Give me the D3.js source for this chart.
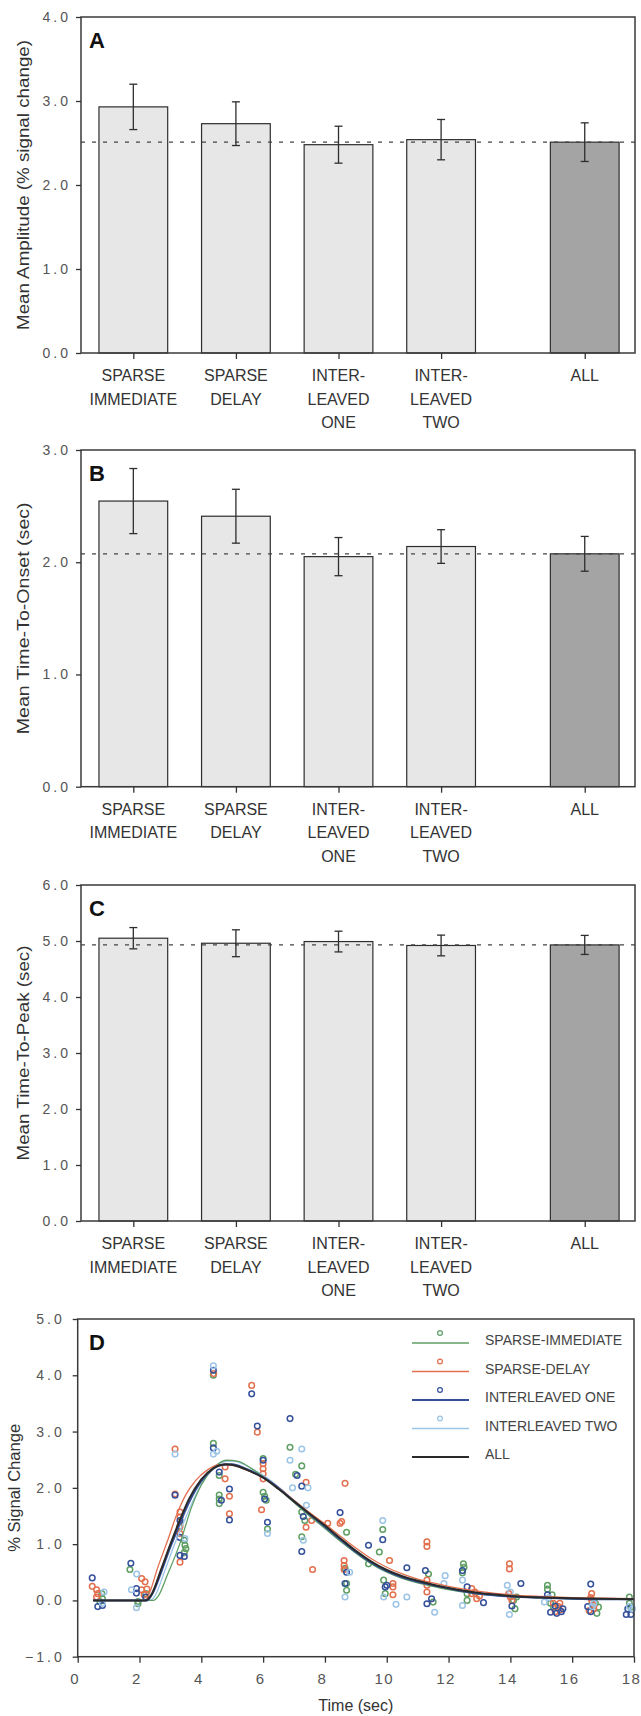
<!DOCTYPE html>
<html>
<head>
<meta charset="utf-8">
<script src="https://cdn.jsdelivr.net/npm/d3@7"></script>
<style>
  body { margin: 0; background: #fff; }
  svg { display: block; font-family: "Liberation Sans", Arial, sans-serif; }
</style>
</head>
<body>
<svg id="chart" width="641" height="1716"></svg>
<script>
// ---- data ----
var categories = [["SPARSE","IMMEDIATE"],["SPARSE","DELAY"],["INTER-","LEAVED","ONE"],["INTER-","LEAVED","TWO"],["ALL"]];
var catPos = [1, 2, 3, 4, 5.4];

var ampMean = [2.93, 2.73, 2.48, 2.54, 2.51];
var ampErr  = [0.27, 0.26, 0.22, 0.24, 0.23];
var onsetMean = [2.545, 2.41, 2.05, 2.14, 2.075];
var onsetErr  = [0.29, 0.24, 0.17, 0.15, 0.155];
var peakMean = [5.05, 4.96, 4.99, 4.92, 4.93];
var peakErr  = [0.19, 0.24, 0.185, 0.185, 0.17];

var ampTicks = [0, 1, 2, 3, 4];
var onsetTicks = [0, 1, 2, 3];
var peakTicks = [0, 1, 2, 3, 4, 5, 6];
var signalTicks = [-1, 0, 1, 2, 3, 4, 5];
var timeTicks = [0, 2, 4, 6, 8, 10, 12, 14, 16, 18];

var seriesNames = ["SPARSE-IMMEDIATE", "SPARSE-DELAY", "INTERLEAVED ONE", "INTERLEAVED TWO", "ALL"];
var seriesColors = ["#5f9f63", "#e2704e", "#34509a", "#9cc4e6", "#2a2a2a"];

// scatter points [time, % change]
var ptsImmediate = [[0.78,0.12],[0.80,0.03],[0.72,-0.02],[1.69,0.55],[1.95,-0.02],[1.95,-0.06],[2.2,0.12],
  [3.45,1.07],[3.47,0.98],[3.50,0.92],[3.45,0.85],[3.30,1.3],[4.39,4.0],[4.39,2.79],[4.58,2.22],[4.58,1.87],
  [4.58,1.80],[4.58,1.72],[6.0,2.52],[6.0,1.92],[6.05,1.85],[6.1,1.78],[6.14,1.27],[6.87,2.72],[7.25,2.39],
  [7.05,2.24],[7.25,1.57],[7.35,1.42],[7.25,1.13],[8.7,1.21],[8.65,0.57],[8.7,0.30],[8.7,0.18],[9.41,0.65],
  [9.76,0.86],[9.87,1.26],[9.9,0.36],[9.95,0.12],[11.35,0.47],[11.5,-0.03],[12.48,0.65],[12.5,0.59],
  [12.45,0.49],[12.6,0.12],[12.6,0.0],[14.1,0.0],[14.2,0.06],[14.15,-0.15],[15.2,0.27],[15.2,0.2],[15.3,-0.05],
  [15.35,0.1],[15.4,-0.12],[16.75,-0.05],[16.8,-0.23],[16.85,-0.12],[17.85,0.06],[17.85,-0.05],[17.9,-0.12]];
var ptsDelay = [[0.47,0.25],[0.61,0.19],[0.61,0.06],[0.65,0.12],[2.07,0.39],[2.18,0.33],[2.07,0.19],[2.24,0.20],
  [2.15,0.1],[3.15,2.69],[3.15,1.89],[3.31,1.57],[3.31,1.48],[3.31,1.32],[3.31,1.19],[3.31,0.68],[4.77,2.37],
  [4.77,2.16],[4.91,1.85],[4.91,1.54],[4.4,4.03],[5.63,3.82],[5.81,2.99],[6.0,2.43],[6.0,2.34],[6.0,2.25],
  [6.0,2.16],[5.95,1.61],[7.39,2.1],[7.39,1.3],[7.57,1.42],[7.6,0.55],[8.09,1.37],[8.49,1.37],[8.65,2.08],
  [8.54,1.40],[8.62,0.71],[8.62,0.62],[8.62,0.55],[10.09,0.71],[10.2,0.30],[10.2,0.24],[10.2,0.1],[11.3,1.04],
  [11.3,0.96],[11.3,0.36],[11.3,0.27],[11.3,0.15],[12.75,0.21],[12.75,0.12],[12.91,0.03],[12.85,0.15],
  [13.0,0.08],[13.97,0.65],[13.97,0.56],[13.95,0.12],[14.0,0.06],[14.05,0.0],[15.39,-0.05],[15.55,-0.11],
  [15.6,-0.17],[15.45,-0.2],[15.6,-0.05],[16.63,0.12],[16.63,0.0],[16.7,-0.09],[16.55,-0.18],[16.7,-0.15],[16.6,0.05]];
var ptsOne = [[0.47,0.40],[0.65,-0.11],[0.80,-0.09],[1.72,0.66],[1.9,0.21],[1.9,0.13],[2.2,0.06],[3.15,1.87],
  [3.31,1.42],[3.31,1.12],[3.31,0.80],[3.45,0.78],[4.39,4.09],[4.39,2.71],[4.58,2.28],[4.65,1.78],[4.91,1.98],
  [4.91,1.43],[5.63,3.67],[5.81,3.10],[6.0,2.49],[6.05,1.80],[6.14,1.39],[6.87,3.23],[7.25,2.03],[7.1,2.22],
  [7.3,1.49],[7.25,0.87],[8.49,1.56],[8.7,0.50],[8.65,0.30],[9.41,0.98],[9.87,1.08],[9.95,0.24],[10.0,0.27],
  [10.65,0.58],[11.25,0.53],[11.3,-0.06],[11.45,0.03],[12.45,0.53],[12.6,0.24],[13.13,-0.04],[14.05,-0.1],
  [14.34,0.30],[15.2,0.1],[15.3,-0.21],[15.5,-0.23],[15.65,-0.2],[15.45,-0.1],[15.7,-0.15],[16.6,0.29],
  [16.5,-0.11],[16.6,-0.2],[17.75,-0.25],[17.9,-0.25],[17.8,-0.15]];
var ptsTwo = [[0.85,0.15],[0.8,-0.05],[1.74,0.19],[1.91,0.47],[1.9,-0.13],[3.15,2.6],[3.47,1.1],[4.39,4.17],
  [4.39,2.6],[4.5,2.65],[6.14,1.19],[6.87,2.49],[7.25,2.69],[6.95,2.0],[7.4,1.69],[7.3,1.07],[7.45,2.0],
  [8.65,0.06],[8.8,0.5],[9.87,1.42],[9.9,0.06],[10.3,-0.07],[10.65,0.06],[11.55,-0.21],[11.89,0.44],
  [11.85,0.30],[12.45,0.36],[12.45,-0.09],[13.9,0.27],[13.97,-0.25],[14.0,0.15],[15.1,-0.03],[15.25,0.05],
  [16.65,-0.11],[16.7,-0.05],[17.85,-0.11],[17.95,-0.15]];

// fitted response curves [time, % change]
var fitImmediate = [[0.5,0],[2.45,0],[2.6,0.07],[2.9,0.45],[3.3,1.0],[3.7,1.68],[4.0,2.05],[4.4,2.35],[4.8,2.49],
  [5.2,2.47],[5.6,2.35],[6.0,2.2],[6.5,1.98],[7.0,1.74],[7.5,1.5],[8.0,1.28],[8.5,1.05],[9.0,0.84],[9.5,0.65],
  [10.0,0.5],[10.5,0.39],[11.0,0.31],[11.5,0.25],[12.0,0.19],[12.5,0.15],[13.0,0.11],[14.0,0.07],[15.0,0.05],
  [16.0,0.03],[17.0,0.02],[18.0,0.02]];
var fitDelay = [[0.5,0],[2.2,0],[2.3,0.1],[2.6,0.6],[2.9,1.05],[3.2,1.52],[3.5,1.88],[3.8,2.12],[4.2,2.32],
  [4.6,2.41],[5.0,2.4],[5.4,2.33],[5.8,2.24],[6.2,2.12],[6.6,1.96],[7.0,1.78],[7.5,1.56],[8.0,1.36],[8.5,1.14],
  [9.0,0.93],[9.5,0.74],[10.0,0.59],[10.5,0.47],[11.0,0.38],[11.5,0.31],[12.0,0.25],[12.5,0.2],[13.0,0.16],
  [14.0,0.1],[15.0,0.07],[16.0,0.05],[17.0,0.04],[18.0,0.03]];
var fitOne = [[0.5,0],[2.25,0],[2.4,0.1],[2.7,0.5],[3.0,0.95],[3.2,1.22],[3.5,1.62],[3.8,1.95],[4.2,2.25],
  [4.6,2.4],[5.0,2.42],[5.4,2.35],[5.8,2.25],[6.2,2.12],[6.6,1.95],[7.0,1.76],[7.5,1.53],[8.0,1.31],[8.5,1.08],
  [9.0,0.86],[9.5,0.67],[10.0,0.52],[10.5,0.41],[11.0,0.33],[11.5,0.27],[12.0,0.21],[12.5,0.16],[13.0,0.12],
  [14.0,0.07],[15.0,0.05],[16.0,0.03],[17.0,0.02],[18.0,0.02]];
var fitTwo = [[0.5,0],[2.35,0],[2.5,0.08],[2.8,0.5],[3.1,0.95],[3.4,1.35],[3.8,1.85],[4.2,2.25],[4.6,2.44],
  [5.0,2.48],[5.4,2.41],[5.8,2.29],[6.2,2.15],[6.6,1.97],[7.0,1.76],[7.5,1.52],[8.0,1.3],[8.5,1.07],[9.0,0.86],
  [9.5,0.66],[10.0,0.51],[10.5,0.4],[11.0,0.32],[11.5,0.26],[12.0,0.2],[12.5,0.15],[13.0,0.11],[14.0,0.07],
  [15.0,0.04],[16.0,0.03],[17.0,0.02],[18.0,0.02]];
var fitAll = [[0.5,0],[2.2,0],[2.4,0.12],[2.7,0.55],[3.0,1.0],[3.3,1.42],[3.6,1.8],[4.0,2.15],[4.4,2.35],
  [4.8,2.42],[5.2,2.38],[5.6,2.29],[6.0,2.18],[6.5,1.98],[7.0,1.76],[7.5,1.54],[8.0,1.33],[8.5,1.1],[9.0,0.88],
  [9.5,0.69],[10.0,0.54],[10.5,0.43],[11.0,0.35],[11.5,0.28],[12.0,0.22],[12.5,0.17],[13.0,0.13],[14.0,0.08],
  [15.0,0.05],[16.0,0.04],[17.0,0.03],[18.0,0.02]];

var svg = d3.select("#chart");
var fmt = d3.format(".1f");

function styleAxis(a) {
  a.select(".domain").remove();
  a.selectAll(".tick line").attr("stroke", "#333").attr("stroke-width", 1.3);
  a.selectAll(".tick text")
    .attr("fill", "#555")
    .style("font-size", "14px")
    .style("letter-spacing", "3px");
}

function frame(left, right, top, bottom) {
  svg.append("rect")
    .attr("x", left).attr("y", top)
    .attr("width", right - left).attr("height", bottom - top)
    .attr("fill", "none").attr("stroke", "#3a3a3a").attr("stroke-width", 1.5);
}

function yTitle(text, x, yc, len) {
  svg.append("text")
    .attr("transform", "translate(" + x + "," + yc + ") rotate(-90)")
    .attr("text-anchor", "middle")
    .attr("textLength", len).attr("lengthAdjust", "spacingAndGlyphs")
    .style("font-size", "16px").attr("fill", "#333")
    .text(text);
}

function panelLetter(t, x, y) {
  svg.append("text").attr("x", x).attr("y", y)
    .style("font-size", "22px").style("font-weight", "bold").attr("fill", "#111")
    .text(t);
}

function barPanel(o) {
  var left = 81, right = 635;
  var x = d3.scaleLinear().domain([0.49, 5.89]).range([left, right]);
  var y = d3.scaleLinear().domain([0, d3.max(o.ticks)]).range([o.bottom, o.top]);
  var bw = x(1.67) - x(1);

  svg.selectAll(null).data(o.mean).enter().append("rect")
    .attr("x", function (d, i) { return x(catPos[i]) - bw / 2; })
    .attr("y", function (d) { return y(d); })
    .attr("width", bw)
    .attr("height", function (d) { return y(0) - y(d); })
    .attr("fill", function (d, i) { return i === o.mean.length - 1 ? "#a4a4a4" : "#e7e7e7"; })
    .attr("stroke", "#2e2e2e").attr("stroke-width", 1.2);

  // reference line at the pooled value
  var ref = o.mean[o.mean.length - 1];
  svg.append("line")
    .attr("x1", left).attr("x2", right)
    .attr("y1", y(ref)).attr("y2", y(ref))
    .attr("stroke", "#444").attr("stroke-width", 1.3)
    .attr("stroke-dasharray", "4,7");

  // error bars
  var eb = svg.append("g").attr("stroke", "#2e2e2e").attr("stroke-width", 1.3);
  o.mean.forEach(function (m, i) {
    var cx = x(catPos[i]), hi = y(m + o.err[i]), lo = y(m - o.err[i]);
    eb.append("line").attr("x1", cx).attr("x2", cx).attr("y1", hi).attr("y2", lo);
    eb.append("line").attr("x1", cx - 4).attr("x2", cx + 4).attr("y1", hi).attr("y2", hi);
    eb.append("line").attr("x1", cx - 4).attr("x2", cx + 4).attr("y1", lo).attr("y2", lo);
  });

  frame(left, right, o.top, o.bottom);

  var ya = svg.append("g").attr("transform", "translate(" + left + ",0)")
    .call(d3.axisLeft(y).tickValues(o.ticks).tickFormat(fmt).tickSize(5).tickPadding(5));
  styleAxis(ya);

  var xa = svg.append("g").attr("transform", "translate(0," + o.bottom + ")")
    .call(d3.axisBottom(x).tickValues(catPos).tickFormat("").tickSize(6));
  styleAxis(xa);

  var lab = svg.selectAll(null).data(categories).enter().append("text")
    .attr("text-anchor", "middle")
    .style("font-size", "16px").attr("fill", "#333");
  lab.selectAll("tspan").data(function (d, i) { return d.map(function (s) { return [s, i]; }); })
    .enter().append("tspan")
    .attr("x", function (d) { return x(catPos[d[1]]); })
    .attr("y", function (d, j) { return o.bottom + 28 + j * 23.5; })
    .text(function (d) { return d[0]; });

  yTitle(o.title, 29, (o.top + o.bottom) / 2, o.titleLen);
  panelLetter(o.letter, 89, o.top + 31);
}

barPanel({ top: 17, bottom: 353, mean: ampMean, err: ampErr, ticks: ampTicks,
  title: "Mean Amplitude (% signal change)", titleLen: 290, letter: "A" });
barPanel({ top: 450, bottom: 786.7, mean: onsetMean, err: onsetErr, ticks: onsetTicks,
  title: "Mean Time-To-Onset (sec)", titleLen: 232, letter: "B" });
barPanel({ top: 885, bottom: 1221, mean: peakMean, err: peakErr, ticks: peakTicks,
  title: "Mean Time-To-Peak (sec)", titleLen: 215, letter: "C" });

// ---- panel D: time courses ----
(function () {
  var left = 77.7, right = 634, top = 1319, bottom = 1656.7;
  var x = d3.scaleLinear().domain([0, 18]).range([left, right]);
  var y = d3.scaleLinear().domain([-1, 5]).range([bottom, top]);

  var pts = [ptsImmediate, ptsDelay, ptsOne, ptsTwo];
  var fits = [fitImmediate, fitDelay, fitOne, fitTwo, fitAll];

  pts.forEach(function (p, k) {
    svg.append("g").selectAll("circle").data(p).enter().append("circle")
      .attr("cx", function (d) { return x(d[0]); })
      .attr("cy", function (d) { return y(d[1]); })
      .attr("r", 2.8)
      .attr("fill", "none")
      .attr("stroke", seriesColors[k])
      .attr("stroke-width", 1.5);
  });

  var line = d3.line()
    .x(function (d) { return x(d[0]); })
    .y(function (d) { return y(d[1]); })
    .curve(d3.curveMonotoneX);
  var order = [3, 0, 1, 2, 4];
  var widths = [1.3, 1.3, 2, 1.3, 2];
  order.forEach(function (k) {
    svg.append("path").datum(fits[k])
      .attr("d", line)
      .attr("fill", "none")
      .attr("stroke", seriesColors[k])
      .attr("stroke-width", widths[k]);
  });

  frame(left, right, top, bottom);

  var ya = svg.append("g").attr("transform", "translate(" + left + ",0)")
    .call(d3.axisLeft(y).tickValues(signalTicks).tickFormat(fmt).tickSize(5).tickPadding(8));
  styleAxis(ya);
  var xa = svg.append("g").attr("transform", "translate(0," + bottom + ")")
    .call(d3.axisBottom(x).tickValues(timeTicks).tickFormat(d3.format("d")).tickSize(6).tickPadding(11));
  styleAxis(xa);
  xa.selectAll(".tick text").style("font-size", "15px").style("letter-spacing", "1.5px").attr("dx", -3);

  svg.append("text").attr("x", (left + right) / 2).attr("y", 1711)
    .attr("text-anchor", "middle").style("font-size", "16px").attr("fill", "#333")
    .text("Time (sec)");
  yTitle("% Signal Change", 20, (top + bottom) / 2, 128);
  panelLetter("D", 89, top + 31);

  // legend
  var lg = svg.append("g");
  seriesNames.forEach(function (name, k) {
    var ly = 1343 + k * 28.5;
    lg.append("line").attr("x1", 412).attr("x2", 469).attr("y1", ly).attr("y2", ly)
      .attr("stroke", seriesColors[k]).attr("stroke-width", k === 2 || k === 4 ? 2 : 1.3);
    if (k < 4) {
      lg.append("circle").attr("cx", 440).attr("cy", ly - 10).attr("r", 2.4)
        .attr("fill", "none").attr("stroke", seriesColors[k]).attr("stroke-width", 1.2);
    }
    lg.append("text").attr("x", 485).attr("y", ly + 2)
      .style("font-size", "14px").attr("fill", "#444").text(name);
  });
})();
</script>
</body>
</html>
